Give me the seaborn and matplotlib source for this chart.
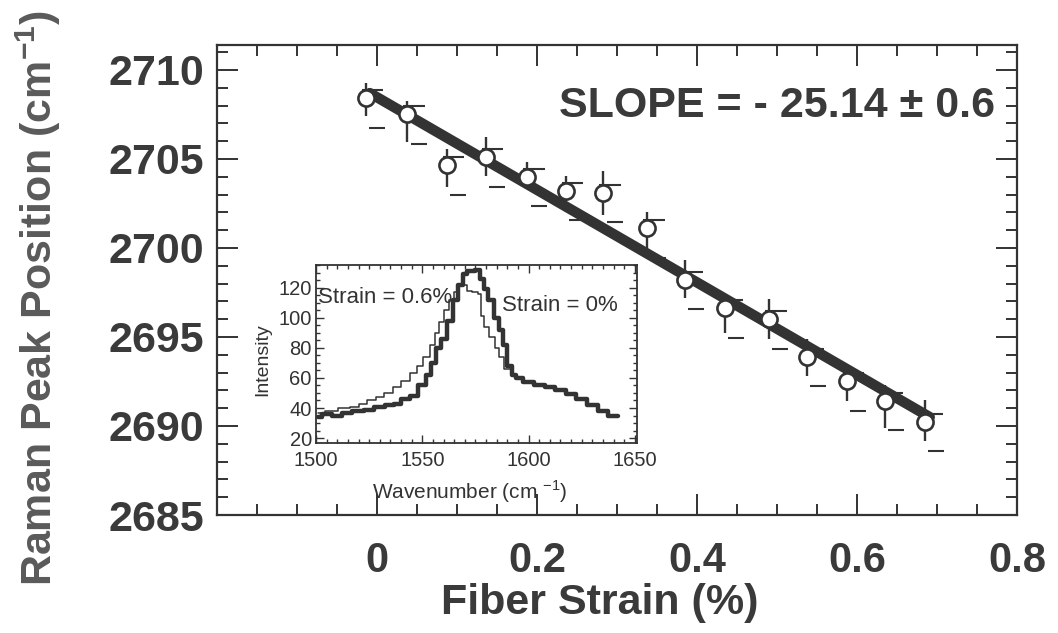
import numpy as np
import pandas as pd
import matplotlib
matplotlib.use("Agg")
import matplotlib.pyplot as plt
import seaborn as sns
from matplotlib.ticker import MultipleLocator

# main plot: Raman peak vs fiber strain
strain = [-0.014, 0.038, 0.087, 0.136, 0.188, 0.236, 0.283, 0.3375,
          0.385, 0.435, 0.490, 0.537, 0.587, 0.635, 0.685]
peak = [2708.4, 2707.5, 2704.65, 2705.1, 2704.0, 2703.2, 2703.1, 2701.1,
        2698.2, 2696.6, 2696.0, 2693.9, 2692.5, 2691.4, 2690.25]
err_up = [0.85, 0.75, 0.9, 1.15, 0.85, 0.85, 1.25, 0.9,
          1.1, 0.75, 1.15, 0.97, 0.93, 0.93, 1.2]
err_dn = [1.0, 1.55, 1.25, 1.05, 0.7, 1.2, 1.25, 1.15,
          1.0, 1.4, 1.1, 1.08, 1.1, 1.5, 1.1]
fit_x = [-0.009, 0.691]
fit_y = [2708.7, 2690.5]

xticks = [0, 0.2, 0.4, 0.6, 0.8]
xlabels = ["0", "0.2", "0.4", "0.6", "0.8"]
yticks = [2685, 2690, 2695, 2700, 2705, 2710]
ylabels = ["2685", "2690", "2695", "2700", "2705", "2710"]

# inset: Raman spectra
wn_0 = [1501, 1505, 1510, 1514, 1520, 1525, 1530, 1535, 1538, 1542, 1546,
        1550, 1553, 1555, 1558, 1560, 1563, 1566, 1568, 1570, 1572, 1574,
        1576, 1578, 1580, 1582, 1585, 1587, 1589, 1591, 1593, 1595, 1600,
        1605, 1610, 1615, 1620, 1625, 1630, 1635, 1640, 1642]
int_0 = [34, 36, 35, 37, 38, 39, 41, 42, 43, 46, 48,
         55, 62, 70, 80, 86, 98, 112, 122, 129, 131, 131,
         132, 126, 119, 112, 100, 92, 82, 68, 62, 60, 57,
         55, 54, 52, 49, 46, 42, 38, 35, 35]
wn_06 = [1501, 1507, 1514, 1518, 1522, 1526, 1530, 1534, 1538, 1542, 1546,
         1549, 1552, 1555, 1557, 1559, 1561, 1564, 1566, 1568, 1570, 1572,
         1575, 1577, 1578, 1580, 1583, 1585, 1587, 1590, 1593, 1596, 1600,
         1605, 1610, 1615, 1620, 1625, 1630, 1635, 1640]
int_06 = [37, 38, 40, 41, 43, 45, 47, 50, 54, 58, 63,
          68, 74, 82, 90, 97, 105, 112, 117, 121, 122, 118,
          117, 116, 101, 94, 87, 80, 74, 66, 62, 60, 57,
          55, 54, 52, 49, 46, 42, 38, 35]
in_xticks = [1500, 1550, 1600, 1650]
in_yticks = [20, 40, 60, 80, 100, 120]

ink = "#333333"
txt = "#3a3a3a"

sns.set_theme(style="ticks")
plt.rcParams["font.family"] = ["Liberation Sans", "DejaVu Sans"]
plt.rcParams["mathtext.fontset"] = "custom"
plt.rcParams["mathtext.rm"] = "Liberation Sans"
plt.rcParams["mathtext.bf"] = "Liberation Sans:bold"

fig = plt.figure(figsize=(10.58, 6.33), dpi=100)
ax = fig.add_axes([0.2051, 0.1864, 0.7561, 0.7425])

# fit line, error bars, points
sns.lineplot(x=fit_x, y=fit_y, color=ink, lw=7.5, ax=ax, zorder=2)
s = np.array(strain)
p = np.array(peak)
ax.errorbar(s, p, yerr=[err_dn, err_up], fmt="none", ecolor=ink,
            elinewidth=1.7, capsize=0, zorder=3)
ax.hlines(p + 0.45, s - 0.005, s + 0.022, color=ink, lw=1.5, zorder=3)
ax.hlines(p - 1.65, s + 0.004, s + 0.024, color=ink, lw=1.5, zorder=3)
sns.scatterplot(x=strain, y=peak, marker="o", s=135, color="white",
                edgecolor=ink, linewidth=1.9, ax=ax, zorder=4)

ax.set_xlim(-0.2, 0.8)
ax.set_ylim(2685, 2711.4)
ax.set_xticks(xticks, xlabels, fontsize=30, fontweight="bold", color=txt)
ax.set_yticks(yticks, ylabels, fontsize=31, fontweight="bold", color=txt)
ax.xaxis.set_minor_locator(MultipleLocator(0.05))
ax.yaxis.set_minor_locator(MultipleLocator(1))
ax.tick_params(which="both", direction="in", top=True, right=True,
               width=1.4, color=ink)
ax.tick_params(which="major", length=15)
ax.tick_params(which="minor", length=8)
ax.tick_params(axis="x", pad=19)
ax.tick_params(axis="y", pad=9)
for sp in ax.spines.values():
    sp.set_color(ink)
    sp.set_linewidth(1.6)
ax.set_xlabel("")
ax.set_ylabel("")

ax.text(0.70, 0.870, "SLOPE = - 25.14 \u00b1 0.6", transform=ax.transAxes,
        fontsize=31, fontweight="bold", color=txt, ha="center", va="center")

fig.text(600 / 1058, 1 - 603 / 633, "Fiber Strain (%)", fontsize=31,
         fontweight="bold", color=txt, ha="center", va="center")
fig.text(38 / 1058, 1 - 298 / 633,
         r"Raman Peak Position (cm$^{\mathbf{-1}}$)", fontsize=31,
         fontweight="bold", color="#5a5a5a", rotation=90,
         ha="center", va="center")

# inset
axin = fig.add_axes([0.2987, 0.3002, 0.3034, 0.2812])
axin.set_facecolor("white")
sns.lineplot(x=wn_06, y=int_06, color=ink, lw=1.1, drawstyle="steps-mid",
             ax=axin)
sns.lineplot(x=wn_0, y=int_0, color=ink, lw=3.2, drawstyle="steps-mid",
             ax=axin)
axin.set_xlim(1500, 1651)
axin.set_ylim(16.7, 135.3)
axin.set_xticks(in_xticks)
axin.set_yticks(in_yticks)
axin.xaxis.set_minor_locator(MultipleLocator(5))
axin.yaxis.set_minor_locator(MultipleLocator(5))
axin.tick_params(which="both", direction="in", top=True, right=True,
                 width=1.0, color=ink, labelsize=14.5, labelcolor=ink)
axin.tick_params(which="major", length=6)
axin.tick_params(which="minor", length=3)
axin.tick_params(axis="x", pad=6)
axin.tick_params(axis="y", pad=3)
for sp in axin.spines.values():
    sp.set_color(ink)
    sp.set_linewidth(1.3)
axin.set_xlabel("")
axin.set_ylabel("")
axin.text(0.006, 0.82, "Strain = 0.6%", transform=axin.transAxes,
          fontsize=16, color=ink, ha="left", va="center")
axin.text(0.58, 0.775, "Strain = 0%", transform=axin.transAxes,
          fontsize=16, color=ink, ha="left", va="center")
axin.text(-0.165, 0.47, "Intensity", transform=axin.transAxes, fontsize=14,
          color=ink, rotation=90, ha="center", va="center")
fig.text(470 / 1058, 1 - 492 / 633, r"Wavenumber (cm $^{\mathrm{-1}}$)",
         fontsize=15, color=ink, ha="center", va="center")

fig.savefig("out.png", dpi=100, facecolor="white")
